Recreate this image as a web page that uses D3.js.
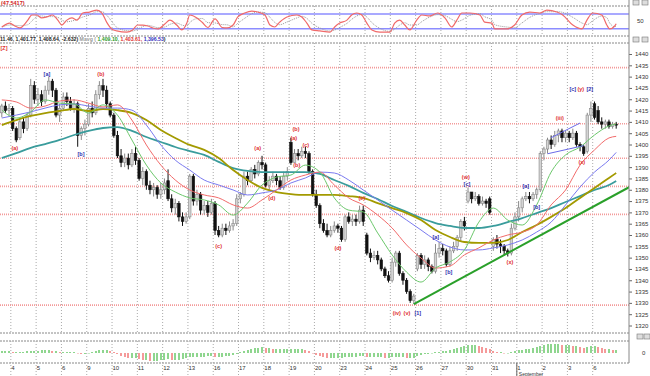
<!DOCTYPE html>
<html>
<head>
<meta charset="utf-8">
<script src="https://cdn.jsdelivr.net/npm/d3@7"></script>
<style>
  body { margin: 0; background: #fff; }
  svg { display: block; font-family: "Liberation Sans", Arial, sans-serif; }
</style>
</head>
<body>
<svg width="650" height="376"></svg>
<script>
// ---- data ----
const dayLabels = ["4","5","6","9","10","11","12","13","16","17","18","19","20","23","24","25","26","27","30","31","1","2","3","6"];
const monthName = "September";
const monthStartDay = 20;

// hourly bars [open, high, low, close]; first 3 bars belong to the day before "4"
const ohlc = [
  [1414,1418,1412,1417],[1417,1419,1414,1415],[1415,1418,1413,1416],
  [1416,1417,1406,1407],[1407,1408,1401,1402],[1403,1411,1402,1410],[1410,1412,1405,1407],[1407,1414,1406,1413],[1413,1429,1412,1426],[1426,1428,1418,1420],
  [1420,1425,1417,1422],[1422,1424,1417,1419],[1419,1426,1418,1424],[1424,1430,1422,1428],[1428,1429,1421,1424],[1424,1425,1412,1413],[1413,1418,1410,1416],
  [1416,1423,1415,1421],[1421,1423,1417,1419],[1419,1421,1415,1416],[1416,1420,1414,1418],[1418,1419,1399,1404],[1404,1408,1402,1407],[1407,1411,1404,1409],
  [1409,1418,1408,1416],[1416,1419,1412,1414],[1414,1424,1413,1422],[1422,1428,1420,1426],[1426,1429,1421,1424],[1424,1426,1416,1418],[1418,1419,1412,1413],
  [1413,1414,1403,1404],[1404,1406,1394,1395],[1395,1398,1390,1392],[1392,1396,1390,1394],[1394,1396,1389,1391],[1391,1398,1390,1396],[1396,1399,1391,1393],
  [1393,1394,1384,1385],[1385,1390,1382,1388],[1388,1389,1380,1382],[1382,1384,1378,1380],[1380,1383,1377,1381],[1381,1382,1376,1378],[1378,1383,1376,1380],
  [1380,1385,1378,1383],[1384,1389,1375,1376],[1376,1378,1370,1372],[1372,1376,1369,1374],[1374,1375,1366,1368],[1368,1370,1364,1366],[1366,1370,1365,1368],
  [1368,1387,1367,1386],[1386,1387,1373,1375],[1375,1380,1373,1378],[1378,1379,1369,1371],[1371,1375,1369,1373],[1373,1375,1368,1370],[1370,1376,1369,1374],
  [1374,1375,1360,1362],[1362,1364,1359,1360],[1360,1365,1359,1363],[1363,1365,1360,1362],[1362,1366,1361,1364],[1364,1367,1362,1365],[1365,1378,1364,1376],
  [1376,1379,1374,1378],[1378,1388,1377,1386],[1386,1388,1382,1384],[1384,1390,1383,1389],[1389,1391,1385,1387],[1387,1393,1386,1392],[1392,1395,1389,1391],
  [1391,1392,1381,1382],[1382,1386,1380,1384],[1384,1388,1383,1386],[1386,1387,1382,1384],[1384,1386,1380,1381],[1381,1388,1380,1386],[1386,1390,1384,1388],
  [1401,1403,1391,1392],[1392,1398,1392,1396],[1396,1398,1393,1395],[1395,1399,1394,1397],[1397,1399,1394,1396],[1396,1397,1387,1388],[1388,1389,1377,1378],
  [1378,1380,1372,1373],[1373,1374,1363,1365],[1365,1367,1361,1362],[1362,1365,1359,1360],[1360,1364,1359,1362],[1362,1366,1361,1364],[1364,1365,1361,1363],
  [1363,1364,1357,1358],[1358,1369,1357,1368],[1368,1370,1365,1366],[1366,1369,1364,1367],[1367,1369,1364,1366],[1366,1373,1365,1371],[1371,1373,1364,1366],
  [1360,1361,1351,1352],[1352,1354,1348,1350],[1350,1353,1349,1351],[1351,1353,1347,1349],[1349,1350,1344,1345],[1345,1346,1341,1342],[1342,1344,1339,1340],
  [1340,1350,1339,1348],[1348,1353,1346,1352],[1352,1353,1342,1343],[1343,1344,1338,1340],[1340,1341,1334,1335],[1335,1336,1330,1331],[1331,1334,1329.5,1333],
  [1345,1352,1344,1351],[1351,1352,1345,1347],[1347,1351,1345,1349],[1349,1350,1344,1346],[1346,1347,1343,1344],[1344,1356,1343,1352],[1352,1357,1350,1354],
  [1354,1356,1351,1353],[1353,1354,1346,1347],[1347,1355,1346,1353],[1353,1357,1352,1355],[1355,1360,1353,1359],[1359,1367,1357,1366],[1366,1368,1362,1364],
  [1375,1381,1374,1379],[1379,1379,1374,1376],[1376,1379,1375,1377],[1377,1378,1373,1374],[1374,1377,1373,1375],[1375,1376,1372,1374],[1376,1377,1369,1370],
  [1355,1359,1353,1358],[1358,1360,1354,1356],[1356,1358,1352,1355],[1355,1356,1351,1353],[1353,1354,1350.5,1352],[1352,1365,1351,1363],[1363,1370,1362,1368],
  [1368,1375,1366,1372],[1372,1377,1370,1376],[1376,1379,1375,1377],[1377,1379,1374,1376],[1376,1379,1375,1378],[1378,1381,1376,1380],[1380,1397,1379,1396],
  [1396,1399,1393,1398],[1398,1403,1396,1402],[1402,1404,1398,1400],[1400,1406,1399,1404],[1404,1407,1401,1406],[1406,1407,1401,1403],[1403,1406,1401,1405],
  [1405,1406,1401,1403],[1403,1407,1402,1405],[1405,1406,1399,1400],[1400,1401,1397,1399],[1399,1400,1395,1396],[1397,1414,1396,1413],[1413,1419,1410,1416],
  [1418,1419,1411,1412],[1415,1417,1409,1410],[1410,1412,1407,1409],[1409,1411,1407,1410],[1410,1411,1407,1408],[1408,1410,1407,1409],[1409,1410,1407,1408.6]
];

const priceTicks = [1320,1325,1330,1335,1340,1345,1350,1355,1360,1365,1370,1375,1380,1385,1390,1395,1400,1405,1410,1415,1420,1425,1430,1435,1440];
const fibLevels = [1434, 1409.2, 1393.9, 1381.5, 1369.1, 1329];

// moving averages sampled at these bars
const maBars = [0,4,8,12,16,20,24,28,32,36,40,44,48,52,56,60,64,68,72,76,80,84,88,92,96,100,104,108,112,116,120,124,128,132,136,140,144,148,152,156,160,164,168,170];
const maGreen = [1415.2,1411.7,1414.4,1419.7,1418.3,1417.9,1413.9,1417.5,1413.0,1402.0,1390.9,1383.0,1379.0,1376.4,1375.5,1373.3,1368.8,1374.1,1382.1,1385.6,1386.5,1390.9,1387.8,1376.4,1371.0,1370.2,1360.9,1351.2,1343.6,1339.2,1345.4,1348.1,1353.4,1365.7,1371.9,1366.6,1364.4,1373.3,1387.8,1395.4,1398.9,1404.2,1408.2,1409.1];
const maRed = [1419.7,1418.8,1416.1,1417.0,1419.2,1419.7,1418.3,1416.6,1417.5,1410.8,1399.8,1390.9,1384.3,1379.9,1377.7,1376.4,1373.3,1371.9,1375.5,1379.9,1384.3,1386.5,1387.8,1382.1,1376.4,1373.3,1368.8,1363.1,1355.6,1349.8,1345.4,1346.3,1351.2,1354.3,1357.8,1360.0,1361.3,1364.4,1373.3,1379.9,1390.9,1397.6,1402.9,1403.6];
const maBlue = [1411.7,1413.0,1414.4,1416.1,1417.5,1417.9,1417.0,1416.1,1416.1,1415.2,1408.6,1399.8,1393.1,1388.7,1384.3,1382.1,1379.9,1377.7,1378.6,1379.9,1383.0,1385.2,1387.8,1387.4,1384.3,1379.9,1375.5,1371.0,1366.6,1362.2,1357.8,1354.7,1353.4,1353.4,1354.3,1355.6,1357.8,1361.3,1365.7,1373.3,1381.2,1387.8,1393.1,1396.5];
const maOlive = [1408.6,1410.8,1412.6,1413.9,1414.8,1415.7,1414.8,1415.7,1415.2,1413.9,1410.8,1406.4,1402.9,1399.8,1397.6,1394.0,1388.7,1384.3,1380.8,1379.0,1378.1,1377.7,1377.7,1377.7,1377.2,1376.4,1374.1,1371.9,1369.7,1366.6,1362.2,1359.1,1356.9,1356.5,1356.5,1357.8,1361.3,1364.4,1368.0,1371.9,1376.4,1380.8,1385.2,1387.4];
const maTeal = [1394.0,1396.2,1398.5,1400.2,1402.0,1404.2,1406.0,1407.3,1407.7,1406.0,1403.3,1401.1,1398.9,1397.1,1395.4,1392.3,1389.6,1388.3,1387.8,1387.8,1387.8,1387.8,1387.0,1384.3,1381.7,1378.6,1375.9,1372.8,1370.2,1367.5,1365.3,1364.0,1363.1,1363.1,1364.0,1365.7,1367.5,1369.7,1371.9,1374.6,1377.2,1379.9,1382.1,1383.9];

const trendBars = [114, 174];
const trendPrices = [1329.5, 1381.5];
const channelTopBars = [152, 160], channelTop = [1403, 1409.5];
const channelLowBars = [151, 161], channelLow = [1395.9, 1399.5];

// stochastic %K
const stochBars = [0,2.2,3.6,5,7.2,8.3,9.7,11,12.5,14,15.5,16.6,18,19.4,20.8,22.4,24.3,26.3,27.7,29,30.4,31.8,34.6,36.2,37.6,39,40.4,41.8,43.2,45.1,46.5,48.4,49.8,51.2,52,54,55.5,57,59,61,62.3,64,65.3,67.2,69.2,70.8,72.8,74.2,75.5,76.9,78.9,81.6,83,84.4,85.8,88,90.8,92.1,93.5,95.5,96.8,98.2,99.6,101,102.4,104.6,107.4,108.7,110.1,111.5,112.9,114.8,116.2,118.4,120.6,122.6,124.5,125.9,127.3,129.5,132.3,133.6,135.6,136.4,139.7,141.9,143.9,146.1,148.9,150.8,153.6,155.2,158,160.5,161.9,163.5,166,167.4,168.2,169.6,170];
const stochK = [27,43,31,23,55,76,76,64,68,76,55,35,55,64,55,84,88,96,84,47,19,11,6,15,35,35,31,23,19,39,55,35,15,43,76,64,45,25,60,25,23,35,68,84,92,88,76,35,27,47,68,76,68,43,15,11,6,27,43,55,76,84,76,43,15,6,6,43,55,35,15,55,76,72,84,64,27,55,84,84,76,47,43,19,19,35,76,88,84,96,88,76,35,19,55,84,76,35,19,31,40];

// histogram, one value per bar
const macdHist = [
  2,2,2,1,1,1,1,2,2,2,
  2,3,3,3,2,2,1,
  1,1,1,1,0,-1,-1,
  0,1,2,3,3,3,2,
  1,-1,-3,-4,-5,-5,-5,
  -6,-7,-7,-8,-8,-8,-7,
  -7,-6,-7,-7,-7,-6,-5,
  -4,-4,-4,-4,-4,-3,-3,
  -4,-4,-4,-3,-3,-2,-1,
  1,2,3,4,5,5,6,
  5,5,4,4,4,4,4,
  4,4,4,4,3,2,0,
  -2,-3,-4,-5,-5,-5,-5,
  -5,-4,-4,-4,-4,-3,-3,
  -4,-4,-4,-4,-4,-5,-5,
  -4,-4,-4,-4,-5,-5,-5,
  -3,-2,-1,-1,0,1,1,
  2,2,3,4,5,6,7,
  8,8,8,7,6,5,4,
  2,1,1,0,0,1,2,
  3,3,4,4,5,6,7,
  8,9,9,9,9,8,8,
  8,7,7,6,5,6,7,
  7,6,5,4,4,3,3
];

// wave labels; degree 0 = red (minor), 1 = blue (intermediate)
const waveText   = ["[Z]","[a]","(a)","[b]","(b)","(c)","(a)","(b)","(a)","(c)","(b)","(d)","(d)","(e)","(iv)","(v)","[1]","[a]","[b]","(w)","[c]","(x)","[a]","[b]","(iii)","(x)","[c]","(y)","[2]"];
const waveDegree = [0,1,0,1,0,0,0,0,0,0,0,0,0,0,0,0,1,1,1,0,1,0,1,1,0,0,1,0,1];
const waveBar    = [0.6,12.5,3.6,21.9,27.4,60,70.8,81.4,80.8,84.1,81.6,74.7,93,99.6,109.3,112.1,115.1,120.1,123.7,128.4,128.7,140.6,145,148,154.4,160.5,158,160.2,162.7];
const wavePrice  = [1442.7,1431.2,1398.5,1395.8,1431.2,1355.1,1398.5,1406.9,1402.9,1399.8,1390.9,1376.4,1354.3,1376.4,1325.5,1325.5,1325.5,1359.1,1343.6,1385.6,1382.5,1348.1,1381.7,1372.4,1411.7,1392.3,1424.5,1424.5,1424.5];

const headerParts = ["11.46, 1,401.77, 1,408.64, -2.632)", "Mavg (", "1,409.10,", "1,403.61,", "1,396.53", ")"];
const headerColors = ["#222", "#999", "#2a9a2a", "#e03030", "#3030c0", "#222"];
const stochValue = "(47.5417)";

// ---- drawing ----
const svg = d3.select("svg");
const axisX = 629;
const firstDayBar = 3, barsPerDay = 7;

const x = d3.scaleLinear().domain([-0.5, ohlc.length - 0.5]).range([0, 618]);
const bw = x(1) - x(0);
const y = d3.scaleLinear().domain([1320, 1440]).range([325.5, 54]);
const yStoch = d3.scaleLinear().domain([20, 80]).range([28.7, 14]);
const yHist = d3.scaleLinear().domain([-9, 9]).range([362, 344]);

const dayX = dayLabels.map((d, k) => x(firstDayBar + k * barsPerDay) - bw / 2);

const defs = svg.append("defs");
defs.append("clipPath").attr("id", "clipMain")
  .append("rect").attr("x", 0).attr("y", 43).attr("width", axisX).attr("height", 290);

// panel borders
[6, 36, 43, 333, 341, 363].forEach(v => {
  svg.append("line").attr("x1", 0).attr("x2", axisX).attr("y1", v).attr("y2", v)
    .attr("stroke", "#888").attr("stroke-width", 1).attr("stroke-dasharray", "2,1");
});

// vertical day grid
const grid = svg.append("g").attr("stroke", "#aaa").attr("stroke-dasharray", "1,2").attr("stroke-width", 1);
[[6, 36], [43, 333], [341, 376]].forEach(([a, b]) => {
  grid.selectAll(null).data(dayX).enter().append("line")
    .attr("x1", d => d).attr("x2", d => d).attr("y1", a).attr("y2", b);
});

// ---- stochastic panel ----
[80, 20].forEach(v => {
  svg.append("line").attr("x1", 0).attr("x2", axisX).attr("y1", yStoch(v)).attr("y2", yStoch(v))
    .attr("stroke", "#8c8cff").attr("stroke-width", 1.5);
});
const kPts = stochBars.map((b, i) => [b, stochK[i]]);
const dPts = kPts.map((p, i) => [p[0], d3.mean(stochK.slice(Math.max(0, i - 2), i + 1))]);
const sLine = d3.line().x(d => x(d[0])).y(d => yStoch(d[1])).curve(d3.curveMonotoneX);
svg.append("path").attr("d", sLine(dPts)).attr("fill", "none").attr("stroke", "#999")
  .attr("stroke-width", 1).attr("stroke-dasharray", "1,1");
svg.append("path").attr("d", sLine(kPts)).attr("fill", "none").attr("stroke", "#f06a6a").attr("stroke-width", 1.2);

svg.append("text").attr("x", 1).attr("y", 5).attr("font-size", 5.5).attr("font-weight", "bold")
  .attr("fill", "#d02020").text(stochValue);
svg.append("text").attr("x", 637).attr("y", yStoch(50) + 2).attr("font-size", 6).attr("fill", "#333").text("50");

// header row
const header = svg.append("text").attr("x", 0).attr("y", 41).attr("font-size", 5.2).attr("font-weight", "bold");
headerParts.forEach((t, i) => header.append("tspan").attr("fill", headerColors[i]).text((i > 0 && i < 5 ? " " : "") + t));

// ---- main price panel ----
const main = svg.append("g").attr("clip-path", "url(#clipMain)");

main.selectAll(".fib").data(fibLevels).enter().append("line")
  .attr("x1", 0).attr("x2", axisX).attr("y1", d => y(d)).attr("y2", d => y(d))
  .attr("stroke", "#f39a9a").attr("stroke-width", 1.6).attr("stroke-dasharray", "1,1");

// candles
const candles = main.selectAll(".c").data(ohlc).enter().append("g");
candles.append("line")
  .attr("x1", (d, i) => x(i)).attr("x2", (d, i) => x(i))
  .attr("y1", d => y(d[1])).attr("y2", d => y(d[2]))
  .attr("stroke", d => d[3] >= d[0] ? "#888" : "#111").attr("stroke-width", 1);
candles.append("rect")
  .attr("x", (d, i) => x(i) - bw * 0.35).attr("width", bw * 0.7)
  .attr("y", d => y(Math.max(d[0], d[3])))
  .attr("height", d => Math.max(1, Math.abs(y(d[0]) - y(d[3]))))
  .attr("fill", d => d[3] >= d[0] ? "#d4d4d4" : "#111")
  .attr("stroke", d => d[3] >= d[0] ? "#888" : "#111").attr("stroke-width", 0.6);

// moving averages
const maLine = d3.line().x(d => x(d[0])).y(d => y(d[1])).curve(d3.curveMonotoneX);
const mas = [
  [maTeal, "#3a9c9c", 1.8],
  [maOlive, "#a39a00", 1.8],
  [maBlue, "#7a7af0", 1],
  [maRed, "#f26b6b", 1],
  [maGreen, "#6cc86c", 1]
];
mas.forEach(([vals, col, w]) => {
  main.append("path").attr("d", maLine(maBars.map((b, i) => [b, vals[i]])))
    .attr("fill", "none").attr("stroke", col).attr("stroke-width", w);
});

// trendline and channel
main.append("line")
  .attr("x1", x(trendBars[0])).attr("y1", y(trendPrices[0]))
  .attr("x2", x(trendBars[1])).attr("y2", y(trendPrices[1]))
  .attr("stroke", "#2aa02a").attr("stroke-width", 2);
[[channelTopBars, channelTop], [channelLowBars, channelLow]].forEach(([b, p]) => {
  main.append("line").attr("x1", x(b[0])).attr("y1", y(p[0])).attr("x2", x(b[1])).attr("y2", y(p[1]))
    .attr("stroke", "#6a6ae8").attr("stroke-width", 1);
});

// wave labels
main.selectAll(".wave").data(waveText).enter().append("text")
  .attr("x", (d, i) => x(waveBar[i])).attr("y", (d, i) => y(wavePrice[i]) + 2)
  .attr("text-anchor", "middle").attr("font-size", 5.5).attr("font-weight", "bold")
  .attr("fill", (d, i) => waveDegree[i] ? "#3030b0" : "#e03030")
  .text(d => d);

// price axis
const yAxis = d3.axisRight(y).tickValues(priceTicks).tickSize(3).tickFormat(d3.format("d"));
svg.append("g").attr("transform", `translate(${axisX},0)`).call(yAxis)
  .call(g => g.select(".domain").remove())
  .call(g => g.selectAll("line").attr("stroke", "#666"))
  .call(g => g.selectAll("text").attr("font-size", 6).attr("fill", "#333").attr("x", 6));

svg.append("line").attr("x1", axisX).attr("x2", axisX).attr("y1", 0).attr("y2", 363)
  .attr("stroke", "#888").attr("stroke-width", 1);

// ---- histogram panel ----
svg.append("g").selectAll("rect").data(macdHist).enter().append("rect")
  .attr("x", (d, i) => Math.round(x(i)) - 1).attr("width", 2)
  .attr("y", d => Math.min(yHist(0), yHist(d)))
  .attr("height", d => Math.max(0.5, Math.abs(yHist(d) - yHist(0))))
  .attr("fill", (d, i) => i > 0 && d < macdHist[i - 1] ? "#f59a9a" : "#8fd68f");
svg.append("text").attr("x", 642).attr("y", yHist(0) + 2).attr("font-size", 6).attr("fill", "#333").text("0");

// panel buttons on the right
[[633, 0], [642, 0], [633, 37], [642, 37], [637, 334], [644, 334]].forEach(([bx, by]) => {
  svg.append("rect").attr("x", bx).attr("y", by).attr("width", 6).attr("height", 5)
    .attr("fill", "#ddd").attr("stroke", "#777").attr("stroke-width", 0.6);
});

// ---- date axis ----
svg.append("g").selectAll("text").data(dayLabels).enter().append("text")
  .attr("x", (d, i) => dayX[i] + 0.5).attr("y", 369.5)
  .attr("font-size", 6).attr("fill", "#333").text(d => d);
svg.append("line").attr("x1", dayX[monthStartDay]).attr("x2", dayX[monthStartDay])
  .attr("y1", 363).attr("y2", 376).attr("stroke", "#666");
svg.append("text").attr("x", dayX[monthStartDay] + 2).attr("y", 375.5)
  .attr("font-size", 5).attr("fill", "#333").text(monthName);
</script>
</body>
</html>
